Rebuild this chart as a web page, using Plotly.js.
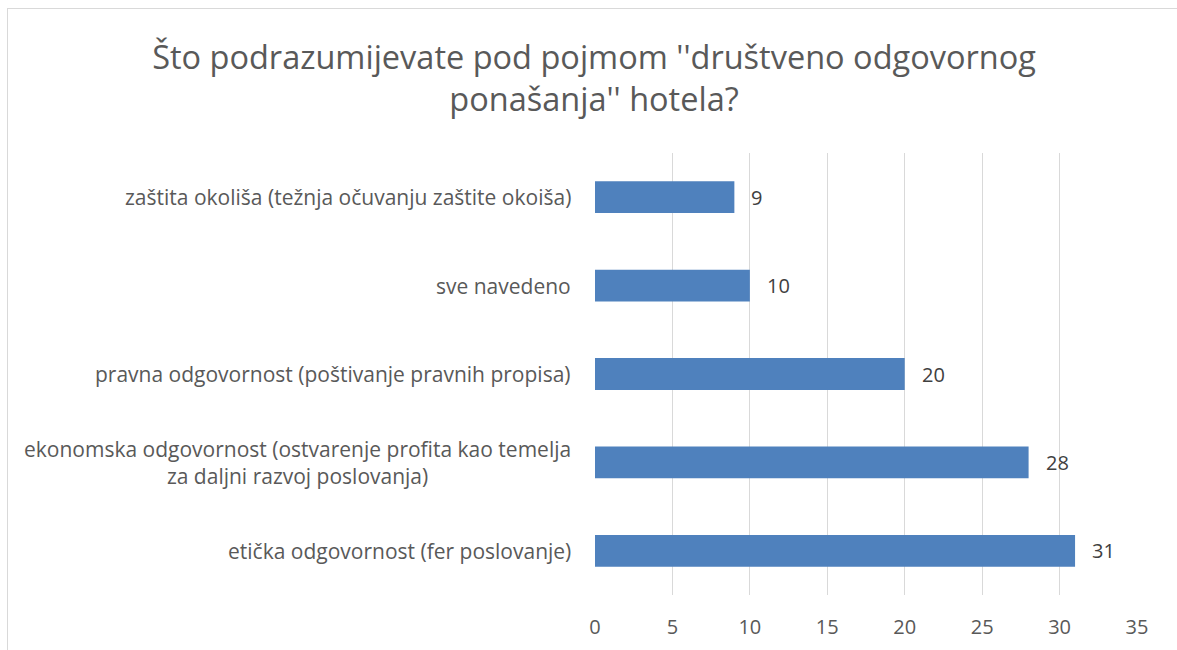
<!DOCTYPE html>
<html>
<head>
<meta charset="utf-8">
<script src="https://cdn.plot.ly/plotly-3.0.1.min.js"></script>
<style>
html,body{margin:0;padding:0;background:#fff;}
#wrap{position:relative;width:1177px;height:650px;overflow:hidden;}
#chart{position:absolute;left:0;top:0;width:1177px;height:650px;}
#frame{position:absolute;left:7px;top:8px;width:1200px;height:700px;border-left:1px solid #d9d9d9;border-top:1px solid #d9d9d9;pointer-events:none;}
</style>
</head>
<body>
<div id="wrap"><div id="chart"></div><div id="frame"></div></div>
<script>
const categories = [
  "etička odgovornost (fer poslovanje)",
  "ekonomska odgovornost (ostvarenje profita kao temelja<br>za daljni razvoj poslovanja)",
  "pravna odgovornost (poštivanje pravnih propisa)",
  "sve navedeno",
  "zaštita okoliša (težnja očuvanju zaštite okoiša)"
];
const values = [31, 28, 20, 10, 9];
const xTicks = [0, 5, 10, 15, 20, 25, 30, 35];
const titleText = "Što podrazumijevate pod pojmom ''društveno odgovornog<br>ponašanja'' hotela?";

const FONT = "Open Sans, Noto Sans, sans-serif";
const TXT = "#595959";

const trace = {
  type: "bar",
  orientation: "h",
  x: values,
  y: categories,
  marker: {color: "#4F81BD"},
  hoverinfo: "none"
};

const catAnn = categories.map((c) => ({
  xref: "paper", yref: "y", x: 0, y: c,
  xanchor: "right", yanchor: "middle", xshift: -22,
  align: "center", showarrow: false, text: c,
  font: {family: FONT, size: 21, color: TXT}
}));

const valAnn = values.map((v, i) => ({
  xref: "x", yref: "y", x: v, y: categories[i],
  xanchor: "left", yanchor: "middle", xshift: 15,
  showarrow: false, text: String(v),
  font: {family: FONT, size: 20, color: "#404040"}
}));

const layout = {
  width: 1177, height: 650,
  margin: {l: 595, r: 40, t: 153, b: 55},
  paper_bgcolor: "#fff", plot_bgcolor: "#fff",
  title: {
    text: titleText,
    font: {family: FONT, size: 32.5, color: TXT},
    x: 0.5047, xanchor: "center", yref: "container", y: 0.894, yanchor: "middle"
  },
  bargap: 0.64,
  showlegend: false,
  xaxis: {
    range: [0, 35], tickvals: xTicks, ticktext: xTicks.map(String),
    showgrid: true, gridcolor: "#d9d9d9", gridwidth: 1,
    zeroline: false, showline: false, ticks: "",
    tickfont: {family: FONT, size: 20, color: TXT}, ticklabelstandoff: 18,
    fixedrange: true
  },
  yaxis: {
    type: "category", showticklabels: false, ticks: "",
    showgrid: false, zeroline: false, showline: false, fixedrange: true
  },
  annotations: catAnn.concat(valAnn)
};

Plotly.newPlot("chart", [trace], layout, {displayModeBar: false, staticPlot: true});
</script>
</body>
</html>
